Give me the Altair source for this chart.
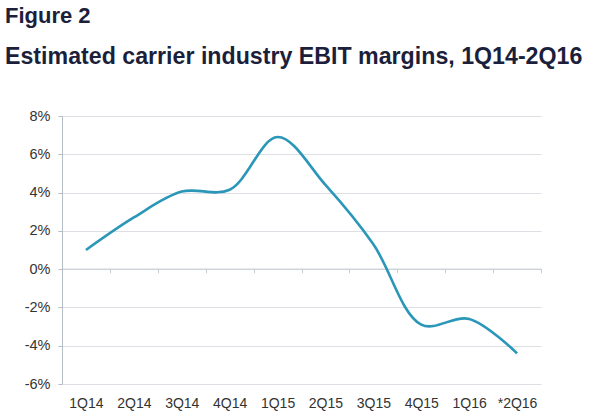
import altair as alt
import pandas as pd

quarters = ["1Q14", "2Q14", "3Q14", "4Q14", "1Q15", "2Q15", "3Q15", "4Q15", "1Q16", "*2Q16"]
ebit_margin = [1.0, 2.7, 4.05, 4.15, 6.9, 4.4, 1.3, -2.9, -2.6, -4.4]
y_ticks = [-6, -4, -2, 0, 2, 4, 6, 8]

df = pd.DataFrame({"idx": list(range(len(quarters))), "quarter": quarters, "margin": ebit_margin})

label_arr = "[" + ",".join("'" + q + "'" for q in quarters) + "]"
boundaries = [i + 0.5 for i in range(len(quarters))]

W, H = 479, 268
FONT = "Liberation Sans"

xscale = alt.Scale(domain=[-0.5, len(quarters) - 0.5], nice=False, zero=False)
yscale = alt.Scale(domain=[min(y_ticks), max(y_ticks)], nice=False)

yaxis = alt.Axis(orient="left", values=y_ticks, labelExpr="datum.value + '%'", labelOverlap=False,
                 grid=True, gridColor="#dcdfe3",
                 domain=True, domainColor="#b4bcc6", ticks=True, tickSize=4, tickColor="#b4bcc6",
                 labelFont=FONT, labelFontSize=14.5, labelColor="#333333", labelPadding=8)

line = alt.Chart(df).mark_line(
    color="#2a97b9", strokeWidth=2.6, interpolate="catmull-rom"
).encode(
    x=alt.X("idx:Q", scale=xscale, title=None,
            axis=alt.Axis(orient="bottom", values=list(range(len(quarters))),
                          labelExpr=label_arr + "[datum.value]", labelOverlap=False,
                          domain=False, ticks=False, grid=False, labelFont=FONT, labelFontSize=14,
                          labelColor="#333333", labelPadding=12)),
    y=alt.Y("margin:Q", scale=yscale, title=None, axis=yaxis),
)

zero_axis = alt.Chart(df).mark_line(opacity=0).encode(
    x=alt.X("idx:Q", scale=xscale, title=None,
            axis=alt.Axis(orient="bottom", values=boundaries, labels=False, grid=False, domain=True,
                          domainColor="#c5ccd4", ticks=True, tickSize=4, tickColor="#c5ccd4",
                          offset=-(H * (0 - min(y_ticks)) / (max(y_ticks) - min(y_ticks))) - 0.5)),
    y=alt.Y("margin:Q", scale=yscale, title=None, axis=yaxis),
)

chart = alt.layer(zero_axis, line).resolve_axis(x="independent").properties(
    width=W,
    height=H,
    padding={"left": 62, "top": 116, "right": 59, "bottom": 33},
    autosize=alt.AutoSizeParams(type="none"),
    background="white",
    title=alt.Title(
        "Figure 2",
        subtitle="Estimated carrier industry EBIT margins, 1Q14-2Q16",
        anchor="start", frame="group", dx=-57, offset=39,
        font=FONT, fontSize=22, fontWeight="bold", color="#1c1f3b",
        subtitleFont=FONT, subtitleFontSize=23.2, subtitleFontWeight="bold", subtitleColor="#1c1f3b",
        subtitlePadding=18,
    ),
).configure_view(stroke=None)

chart.save("out.html", embed_options={"renderer": "svg", "actions": False})
